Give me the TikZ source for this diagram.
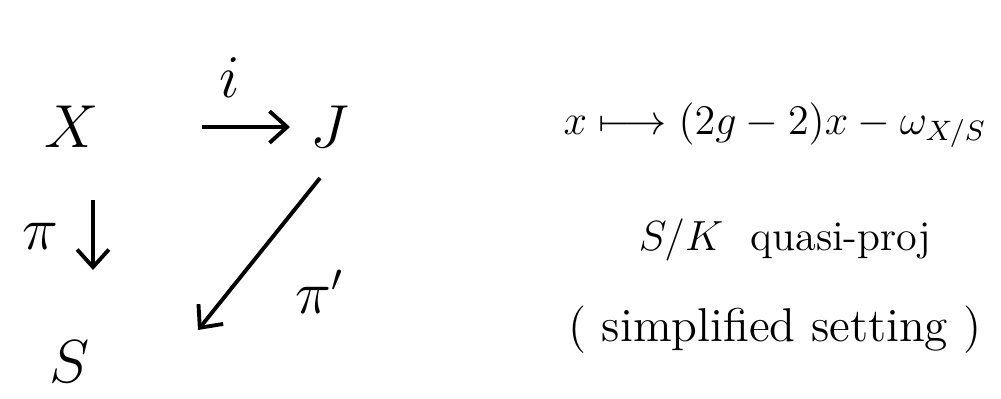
\documentclass[tikz,border=0pt]{standalone}
\usepackage{amsmath, amssymb}
\usepackage{tikz}
\usetikzlibrary{arrows.meta, positioning}

\tikzset{
  obj/.style={inner sep=2pt, font=\fontsize{19}{23}\selectfont},
  lbl/.style={inner sep=1pt, font=\fontsize{16}{20}\selectfont},
  note/.style={inner sep=1pt, font=\fontsize{12}{15}\selectfont},
  mapto/.style={-{Straight Barb[length=5pt, width=9pt]}, line width=1.1pt}
}

\begin{document}
\begin{tikzpicture}
\useasboundingbox (0,0) rectangle (10.01,-3.98);
% the triangle
\node[obj] (X) at (0.72,-1.27) {$X$};
\node[obj] (J) at (3.30,-1.27) {$J$};
\node[obj] (S) at (0.70,-3.62) {$S$};
\coordinate (ia) at (2.02,-1.27);
\coordinate (ib) at (2.90,-1.27);
\draw[mapto] (ia) -- (ib);
\node[lbl] (i) at (2.30,-0.78) {$i$};
\coordinate (pa) at (0.93,-2.00);
\coordinate (pb) at (0.93,-2.70);
\draw[mapto] (pa) -- (pb);
\node[lbl] (pi) at (0.40,-2.36) {$\pi$};
\coordinate (qa) at (3.20,-1.78);
\coordinate (qb) at (1.98,-3.30);
\draw[mapto] (qa) -- (qb);
\node[lbl] (piprime) at (3.20,-2.92) {$\pi'$};
% remarks on the right
\node[note] (formula) at (7.75,-1.25) {$x \longmapsto (2g-2)x - \omega_{X/S}$};
\node[note] (base) at (7.85,-2.40) {$S/K$\ \ quasi-proj};
\node[note, font=\fontsize{13.5}{16}\selectfont] (setting) at (7.75,-3.30) {( simplified setting )};
\end{tikzpicture}
\end{document}
